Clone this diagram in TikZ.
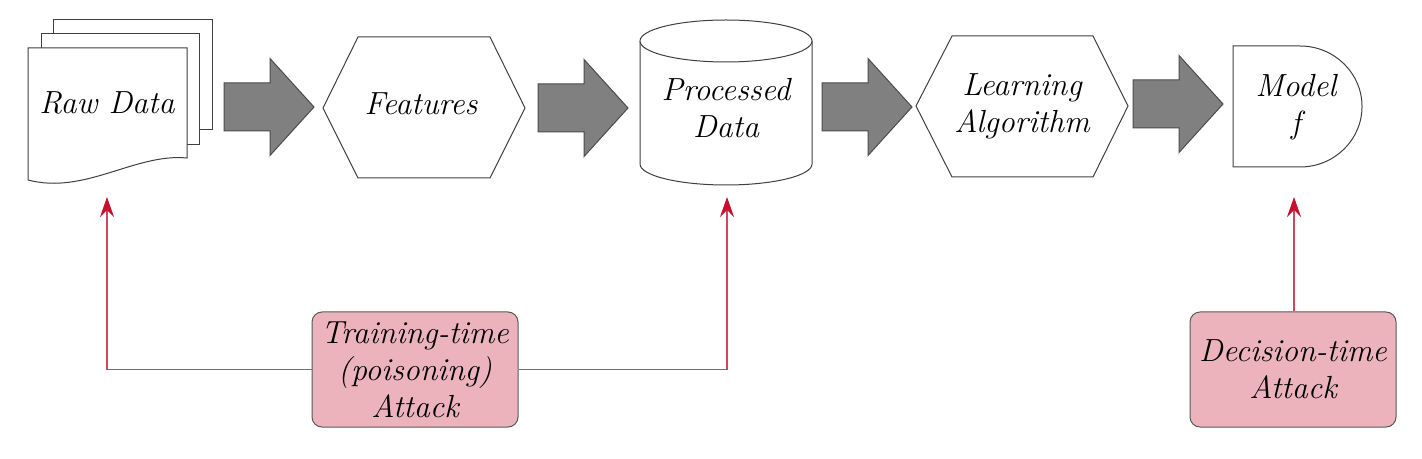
\documentclass[tikz,border=0pt]{standalone}
\usetikzlibrary{arrows.meta}
\definecolor{attackfill}{RGB}{236,179,189}
\definecolor{attackred}{RGB}{200,16,46}
\definecolor{attackline}{RGB}{208,70,92}
\definecolor{blockgray}{RGB}{128,128,128}
\begin{document}
\begin{tikzpicture}[x=0.5pt,y=-0.5pt,
  shapeline/.style={draw=black!75,line width=0.5pt,fill=white},
  lbl/.style={font=\fontsize{16}{18.5}\selectfont\itshape,align=center,inner sep=0pt},
  attack/.style={draw=black!65,fill=attackfill,rounded corners=5pt,minimum width=103pt,
    minimum height=57.5pt,inner sep=0pt,font=\fontsize{16}{18.5}\selectfont\itshape,
    align=center,line width=0.5pt},
  attackconn/.style={draw=attackline,line width=0.75pt,
    -{Stealth[length=10pt,width=7pt,inset=3.5pt,color=attackred]}},
  blockarrow/.pic={\draw[fill=blockgray,draw=black!70,line width=0.5pt]
    (0,-24) -- (46,-24) -- (46,-48.5) -- (90,0) -- (46,48.5) -- (46,24) -- (0,24) -- cycle;}
]
\useasboundingbox[fill=white] (0,0) rectangle (1422,459);

% Raw data (stack of documents)
\draw[shapeline] (53,20) rectangle (212,130);
\draw[shapeline] (41,34) rectangle (199,145);
\draw[shapeline] (28,48) -- (187,48) -- (187,158)
  .. controls (135,153) and (85,195) .. (28,180) -- cycle;
\node[lbl] (raw) at (107,103) {Raw Data};

% Features
\draw[shapeline] (323,108) -- (358,37) -- (490,37) -- (525,108) -- (490,178) -- (358,178) -- cycle;
\node[lbl] (feat) at (421,104) {Features};

% Processed data (cylinder)
\filldraw[shapeline] (640,41) -- (640,164)
  arc[start angle=180,end angle=0,x radius=86,y radius=21] -- (812,41);
\draw[shapeline] (726,41) ellipse[x radius=86,y radius=21];
\node[lbl] (proc) at (726,108) {Processed\\Data};

% Learning algorithm
\draw[shapeline] (916,106) -- (952,36) -- (1093,36) -- (1128,106) -- (1093,177) -- (952,177) -- cycle;
\node[lbl] (learn) at (1022,106) {Learning\\Algorithm};

% Model
\draw[shapeline] (1233,46) -- (1300,46)
  arc[start angle=-90,end angle=90,x radius=62,y radius=60.5] -- (1233,167) -- cycle;
\node[lbl] (model) at (1296,107) {Model\\f};

% block arrows
\pic (a1) at (224,107) {blockarrow};
\pic (a2) at (538,108) {blockarrow};
\pic (a3) at (822,107) {blockarrow};
\pic (a4) at (1133,104) {blockarrow};

% attacks
\node[attack] (train) at (415,369.5) {Training-time\\(poisoning)\\Attack};
\node[attack] (dec) at (1293,369.5) {Decision-time\\Attack};
\coordinate (rawin) at (107,197);
\coordinate (procin) at (727,197);
\coordinate (modelin) at (1294,197);
\draw[attackconn] (train.west) -| (rawin);
\draw[attackconn] (train.east) -| (procin);
\draw[attackconn] (dec.north -| modelin) -- (modelin);
\end{tikzpicture}
\end{document}
